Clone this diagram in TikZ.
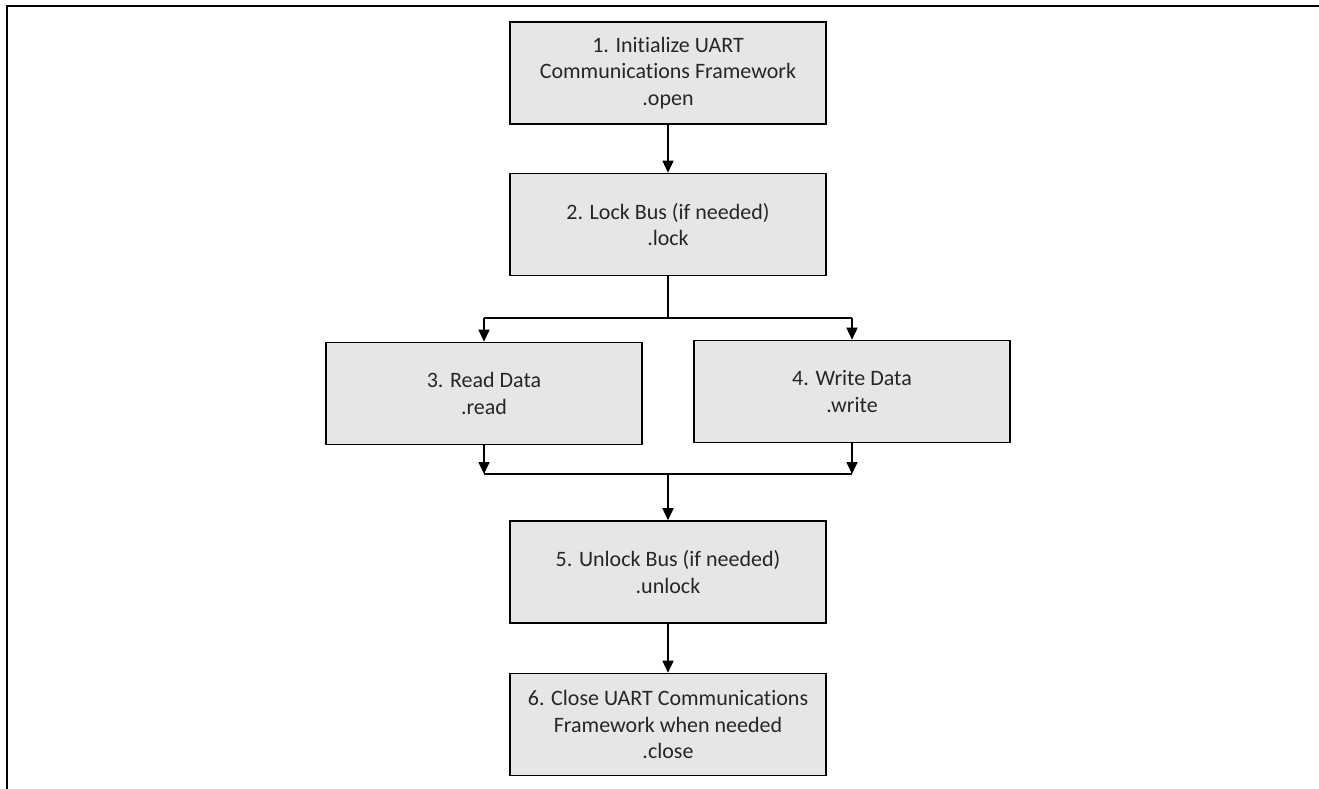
\documentclass[tikz,border=0pt]{standalone}
\usepackage{fontspec}
\setmainfont[Ligatures=NoCommon]{Carlito}
\usetikzlibrary{arrows.meta}
\definecolor{boxfill}{HTML}{E6E6E6}
\definecolor{txt}{HTML}{262626}
\begin{document}
\begin{tikzpicture}[x=1pt,y=-1pt,
  stepbox/.style={draw=black,line width=1.6pt,fill=boxfill,rectangle,
    minimum width=316pt,minimum height=102pt,inner sep=0pt,align=center,
    text=txt,font=\fontsize{22}{26.5}\selectfont},
  conn/.style={line width=1.6pt,draw=black},
  arr/.style={conn,-{Triangle[width=11pt,length=12pt]}}]
\useasboundingbox (0,0) rectangle (1319,789);
\draw[line width=2pt] (7,789) -- (7,6) -- (1319,6);
\node[stepbox] (b1) at (668,73) {1. Initialize UART\\Communications Framework\\.open};
\node[stepbox] (b2) at (668,224.5) {2. Lock Bus (if needed)\\.lock};
\node[stepbox] (b3) at (484,393.5) {3. Read Data\\.read};
\node[stepbox] (b4) at (852,391.5) {4. Write Data\\.write};
\node[stepbox] (b5) at (668,572) {5. Unlock Bus (if needed)\\.unlock};
\node[stepbox] (b6) at (668,724.5) {6. Close UART Communications\\Framework when needed\\.close};
\coordinate (split) at (668,318);
\coordinate (sl) at (484,318);
\coordinate (sr) at (852,318);
\coordinate (merge) at (668,474);
\coordinate (ml) at (484,474);
\coordinate (mr) at (852,474);
\draw[arr] (b1) -- (b2);
\draw[conn] (b2.south) -- (split);
\draw[conn] (sl) -- (sr);
\draw[arr] (sl) -- (b3.north);
\draw[arr] (sr) -- (b4.north);
\draw[arr] (b3.south) -- (ml);
\draw[arr] (b4.south) -- (mr);
\draw[conn] (ml) -- (mr);
\draw[arr] (merge) -- (b5.north);
\draw[arr] (b5) -- (b6);
\end{tikzpicture}
\end{document}
